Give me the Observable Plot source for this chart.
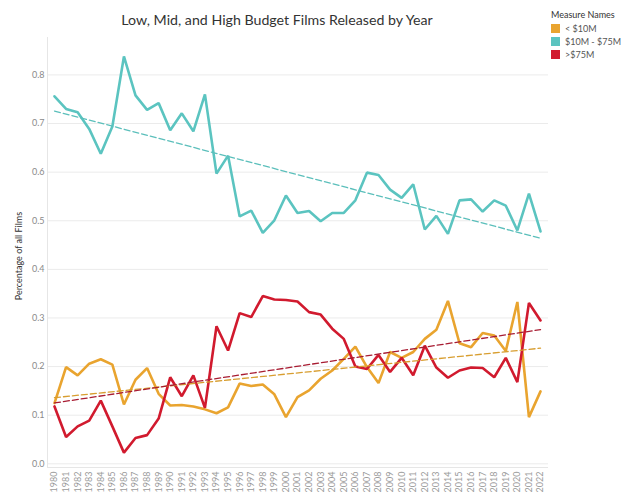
<!DOCTYPE html>
<html><head><meta charset="utf-8">
<script src="https://cdn.jsdelivr.net/npm/d3@7"></script>
<script src="https://cdn.jsdelivr.net/npm/@observablehq/plot@0.6"></script>
<style>
body{margin:0;background:#fff;font-family:Lato,"Open Sans",sans-serif;}
#wrap{position:relative;width:622px;height:500px;overflow:hidden;}
#title{position:absolute;left:0;width:554px;top:11px;text-align:center;font-size:14.2px;color:#333;}
#ylab{position:absolute;left:18px;top:256px;transform:translate(-50%,-50%) rotate(-90deg);font-size:9px;color:#333;white-space:nowrap;}
#legend{position:absolute;left:551px;top:8px;font-size:9px;color:#555;line-height:13px;}
#legend .t{color:#333;margin-bottom:1px;}
#legend .r{display:flex;align-items:center;}
#legend .s{width:9px;height:9px;margin-right:5px;}
svg{position:absolute;left:0;top:0;}
</style></head>
<body>
<div id="wrap">
<div id="chart"></div>
<div id="title">Low, Mid, and High Budget Films Released by Year</div>
<div id="ylab">Percentage of all Films</div>
<div id="legend"></div>
</div>
<script>
const years = d3.range(1980, 2023);
const seriesNames = ["< $10M", "$10M - $75M", ">$75M"];
const seriesColors = ["#E9A42F", "#5BC4C0", "#D11A2E"];
const trendColors = ["#D89E30", "#5BBFBB", "#A81C32"];
const yTicks = [0, 0.1, 0.2, 0.3, 0.4, 0.5, 0.6, 0.7, 0.8];

const lowBudget = [0.125,0.199,0.182,0.206,0.215,0.204,0.122,0.173,0.197,0.144,
  0.120,0.121,0.118,0.112,0.104,0.116,0.165,0.160,0.163,0.143,
  0.096,0.137,0.151,0.175,0.192,0.216,0.241,0.199,0.166,0.230,
  0.218,0.230,0.257,0.276,0.335,0.248,0.240,0.269,0.264,0.232,
  0.333,0.096,0.149];
const midBudget = [0.756,0.730,0.723,0.689,0.638,0.694,0.838,0.758,0.728,0.742,
  0.686,0.721,0.684,0.760,0.597,0.634,0.509,0.521,0.475,0.501,
  0.552,0.516,0.520,0.499,0.516,0.516,0.542,0.599,0.594,0.564,
  0.547,0.575,0.482,0.510,0.473,0.542,0.544,0.519,0.542,0.531,
  0.480,0.556,0.478];
const highBudget = [0.118,0.055,0.077,0.089,0.130,0.077,0.023,0.053,0.059,0.093,
  0.178,0.139,0.182,0.115,0.283,0.233,0.310,0.302,0.345,0.338,
  0.337,0.334,0.312,0.307,0.278,0.257,0.200,0.195,0.224,0.189,
  0.218,0.182,0.243,0.198,0.177,0.192,0.198,0.197,0.178,0.218,
  0.168,0.331,0.295];

const seriesValues = [lowBudget, midBudget, highBudget];
const data = [];
seriesNames.forEach((s, i) => years.forEach((y, j) => data.push({year: y, value: seriesValues[i][j], series: s})));

const x0 = 1979.395, x1 = 2022.69, y0 = -0.0076, y1 = 0.877;

const marks = [
  Plot.gridY(yTicks, {stroke: "#ebebeb", strokeOpacity: 1}),
  Plot.ruleX([x0], {stroke: "#e6e6e6"}),
  Plot.ruleY([y0], {stroke: "#e6e6e6"}),
  Plot.axisY(yTicks, {tickSize: 0, tickPadding: 3, tickFormat: d3.format(".1f"), fontSize: 9, fill: "#8a8a8a", label: null}),
  Plot.axisX(years, {tickSize: 0, tickPadding: 4, tickRotate: -90, tickFormat: d => String(d), fontSize: 9, fill: "#9a9a9a", label: null})
];
seriesNames.forEach((s, i) => {
  marks.push(Plot.line(data.filter(d => d.series === s), {x: "year", y: "value", stroke: seriesColors[i], strokeWidth: 2.6, strokeLinejoin: "miter"}));
});
seriesNames.forEach((s, i) => {
  marks.push(Plot.linearRegressionY(data.filter(d => d.series === s), {x: "year", y: "value", stroke: trendColors[i], ci: 0, strokeWidth: 1.3, strokeDasharray: "6,3"}));
});

const chart = Plot.plot({
  width: 622, height: 500,
  marginTop: 37, marginBottom: 33, marginLeft: 47, marginRight: 74,
  style: {fontFamily: "Lato, 'Open Sans', sans-serif", background: "transparent"},
  x: {type: "linear", domain: [x0, x1], axis: null},
  y: {domain: [y0, y1], axis: null},
  marks
});
document.getElementById("chart").appendChild(chart);

const leg = document.getElementById("legend");
leg.innerHTML = '<div class="t">Measure Names</div>' + seriesNames.map((s, i) =>
  `<div class="r"><div class="s" style="background:${seriesColors[i]}"></div>${s.replace(/</g, "&lt;")}</div>`).join("");
</script>
</body></html>
